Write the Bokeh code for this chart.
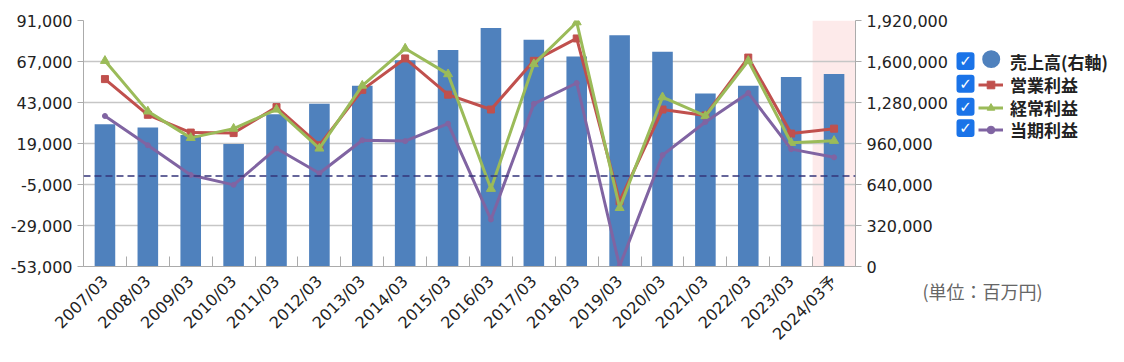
import math
from bokeh.plotting import figure
from bokeh.layouts import row
from bokeh.models import (Range1d, LinearAxis, FixedTicker, NumeralTickFormatter, Span,
                          BoxAnnotation, Label, Legend, LegendItem, Title)
from bokeh.embed import file_html
from bokeh.resources import INLINE

# ---------------- data ----------------
categories = ["2007/03", "2008/03", "2009/03", "2010/03", "2011/03", "2012/03",
              "2013/03", "2014/03", "2015/03", "2016/03", "2017/03", "2018/03",
              "2019/03", "2020/03", "2021/03", "2022/03", "2023/03", "2024/03予"]
sales = [1111000, 1085000, 1026000, 956000, 1188000, 1271000, 1411000, 1609000,
         1689000, 1862000, 1769000, 1640000, 1805000, 1676000, 1351000, 1411000,
         1480000, 1503000]                       # 売上高 (right axis)
operating = [56700, 35800, 25400, 25100, 40300, 18000, 50400, 68800, 47600,
             38900, 67400, 80500, -14800, 38900, 35400, 69300, 24800, 27700]   # 営業利益
ordinary = [67400, 37800, 22300, 27700, 38900, 16100, 52900, 74600, 59600,
            -7500, 65500, 90000, -18700, 46100, 35100, 67400, 19400, 20600]    # 経常利益
net = [35100, 18000, 600, -5200, 16100, 1600, 20900, 20400, 30600,
       -25500, 42200, 54400, -52800, 12200, 31600, 48600, 15700, 10900]        # 当期利益
left_ticks = [-53000, -29000, -5000, 19000, 43000, 67000, 91000]
right_ticks = [0, 320000, 640000, 960000, 1280000, 1600000, 1920000]
series_names = ["売上高(右軸)", "営業利益", "経常利益", "当期利益"]
unit_text = "(単位：百万円)"

# ---------------- layout constants ----------------
FRAME_T, FRAME_W, FRAME_H = 21, 772, 248
B_LEFT, B_TOP, B_RIGHT, B_BOTTOM = 83, 20, 95, 85
H = B_TOP + FRAME_H + B_BOTTOM
W1 = B_LEFT + FRAME_W + B_RIGHT
OVERLAP = 30
W2 = 200
P2_LEFT = W1 - OVERLAP              # page x of the second canvas

n = len(categories)
xs = [i + 0.5 for i in range(n)]
forecast_idx = [i for i, c in enumerate(categories) if c.endswith("予")]

BLUE = "#4F81BD"
RED = "#C0504D"
GREEN = "#9BBB59"
PURPLE = "#8064A2"
AXIS = "#ababab"
NUM_FONT = "DejaVu Sans, Noto Sans CJK JP"
JP_FONT = "Noto Sans CJK JP"

p = figure(width=W1, height=H,
           min_border_left=B_LEFT, min_border_right=B_RIGHT,
           min_border_top=B_TOP, min_border_bottom=B_BOTTOM,
           x_range=Range1d(0, n), y_range=Range1d(left_ticks[0], left_ticks[-1]),
           output_backend="svg", toolbar_location=None,
           background_fill_color="white", border_fill_color="white", outline_line_color=None)

p.extra_y_ranges = {"sales": Range1d(right_ticks[0], right_ticks[-1])}

# forecast highlight
for i in forecast_idx:
    p.add_layout(BoxAnnotation(left=i, right=i + 1, fill_color="#FDEAEA", fill_alpha=1.0,
                               line_color=None, level="image"))

# axes styling
p.xgrid.visible = False
p.ygrid.ticker = FixedTicker(ticks=left_ticks)
p.ygrid.grid_line_color = "#c6c6c6"
p.ygrid.grid_line_width = 1.5

yl = p.yaxis[0]
yl.ticker = FixedTicker(ticks=left_ticks)
yl.formatter = NumeralTickFormatter(format="0,0")

yr = LinearAxis(y_range_name="sales", ticker=FixedTicker(ticks=right_ticks),
                formatter=NumeralTickFormatter(format="0,0"))
p.add_layout(yr, "right")

for ax in (yl, yr):
    ax.major_label_text_font = NUM_FONT
    ax.major_label_text_font_size = "16px"
    ax.major_label_text_color = "#222222"
    ax.axis_line_color = AXIS
    ax.major_tick_line_color = AXIS
    ax.major_tick_out = 6
    ax.major_tick_in = 0
    ax.minor_tick_line_color = None
    ax.major_label_standoff = 5

xa = p.xaxis[0]
xa.ticker = FixedTicker(ticks=xs, minor_ticks=list(range(n + 1)))
xa.major_label_overrides = {x: c for x, c in zip(xs, categories)}
xa.major_label_orientation = math.pi / 4
xa.major_label_text_font = NUM_FONT
xa.major_label_text_font_size = "16px"
xa.major_label_text_color = "#222222"
xa.major_tick_line_color = None
xa.minor_tick_line_color = AXIS
xa.minor_tick_in = 10
xa.minor_tick_out = 0
xa.axis_line_color = AXIS
xa.major_label_standoff = 6

# bars
p.vbar(x=xs, top=sales, bottom=0, width=0.48, y_range_name="sales",
       fill_color=BLUE, line_color=None)

# zero line
p.add_layout(Span(location=0, dimension="width", line_color="#35357a",
                  line_dash="7 4", line_width=1.5))

# lines
p.line(xs, operating, line_color=RED, line_width=3)
p.scatter(xs, operating, marker="square", size=7, fill_color=RED, line_color=RED)
p.line(xs, ordinary, line_color=GREEN, line_width=3)
p.scatter(xs, ordinary, marker="triangle", size=9, fill_color=GREEN, line_color=GREEN)
p.line(xs, net, line_color=PURPLE, line_width=3)
p.scatter(xs, net, marker="circle", size=5, fill_color=PURPLE, line_color=PURPLE)

# ---------------- legend / unit panel (page-pixel coordinates) ----------------
# its frame is aligned by the row with the main frame (page y 21..269)
p2 = figure(width=W2, height=H, min_border=0,
            x_range=Range1d(P2_LEFT, P2_LEFT + W2),
            y_range=Range1d(FRAME_T + FRAME_H, FRAME_T),
            x_axis_type=None, y_axis_type=None,
            output_backend="svg", toolbar_location=None,
            background_fill_alpha=0, border_fill_alpha=0, outline_line_color=None)
p2.xgrid.visible = False
p2.ygrid.visible = False
p2.margin = (0, 0, 0, -OVERLAP)

off = [-1000, -999]
d0 = p2.scatter(x=[-1000], y=[0], marker="circle", size=1, fill_alpha=0, line_alpha=0)
l1 = p2.line(off, [0, 0], line_color=RED, line_width=3)
m1 = p2.scatter(x=[-1000], y=[0], marker="square", fill_color=RED, line_color=RED)
l2 = p2.line(off, [0, 0], line_color=GREEN, line_width=3)
m2 = p2.scatter(x=[-1000], y=[0], marker="triangle", fill_color=GREEN, line_color=GREEN)
l3 = p2.line(off, [0, 0], line_color=PURPLE, line_width=3)
m3 = p2.scatter(x=[-1000], y=[0], marker="circle", fill_color=PURPLE, line_color=PURPLE)

row_centers = [61, 84, 107, 129.5]
item_renderers = [[d0], [l1, m1], [l2, m2], [l3, m3]]
ITEM_OFF = 15.9
for name, rends, cy in zip(series_names, item_renderers, row_centers):
    lg = Legend(items=[LegendItem(label=name, renderers=rends)],
                location=(978 - P2_LEFT, FRAME_T + FRAME_H - (cy + ITEM_OFF)),
                padding=0, margin=0, spacing=0, glyph_width=25, glyph_height=19,
                label_height=19, label_standoff=7,
                label_text_font=JP_FONT, label_text_font_style="bold",
                label_text_font_size="17px", label_text_color="#222222",
                background_fill_alpha=0, border_line_color=None)
    p2.add_layout(lg, "center")

# checkboxes
for cy in [62, 84.8, 108, 129.5]:
    p2.add_layout(BoxAnnotation(left=956, right=974, top=cy - 9, bottom=cy + 9,
                                fill_color="#1A73E8", fill_alpha=1.0, line_color=None,
                                border_radius=3))
    p2.add_layout(Label(x=965, y=cy, text="✓", text_color="white",
                        text_font="DejaVu Sans", text_font_style="bold", text_font_size="15px",
                        text_align="center", text_baseline="middle"))

# blue circle marker for sales
p2.add_layout(BoxAnnotation(left=981.7, right=999.7, top=51, bottom=69,
                            fill_color=BLUE, fill_alpha=1.0, line_color=None, border_radius=9))

# unit label below the (aligned) frame
p2.add_layout(Title(text=unit_text, align="left", offset=925 - P2_LEFT - 3, standoff=18,
                    text_color="#666666", text_font=JP_FONT, text_font_size="18px",
                    text_font_style="normal"), "below")

layout = row(p, p2)
open("out.html", "w").write(file_html(layout, INLINE))
